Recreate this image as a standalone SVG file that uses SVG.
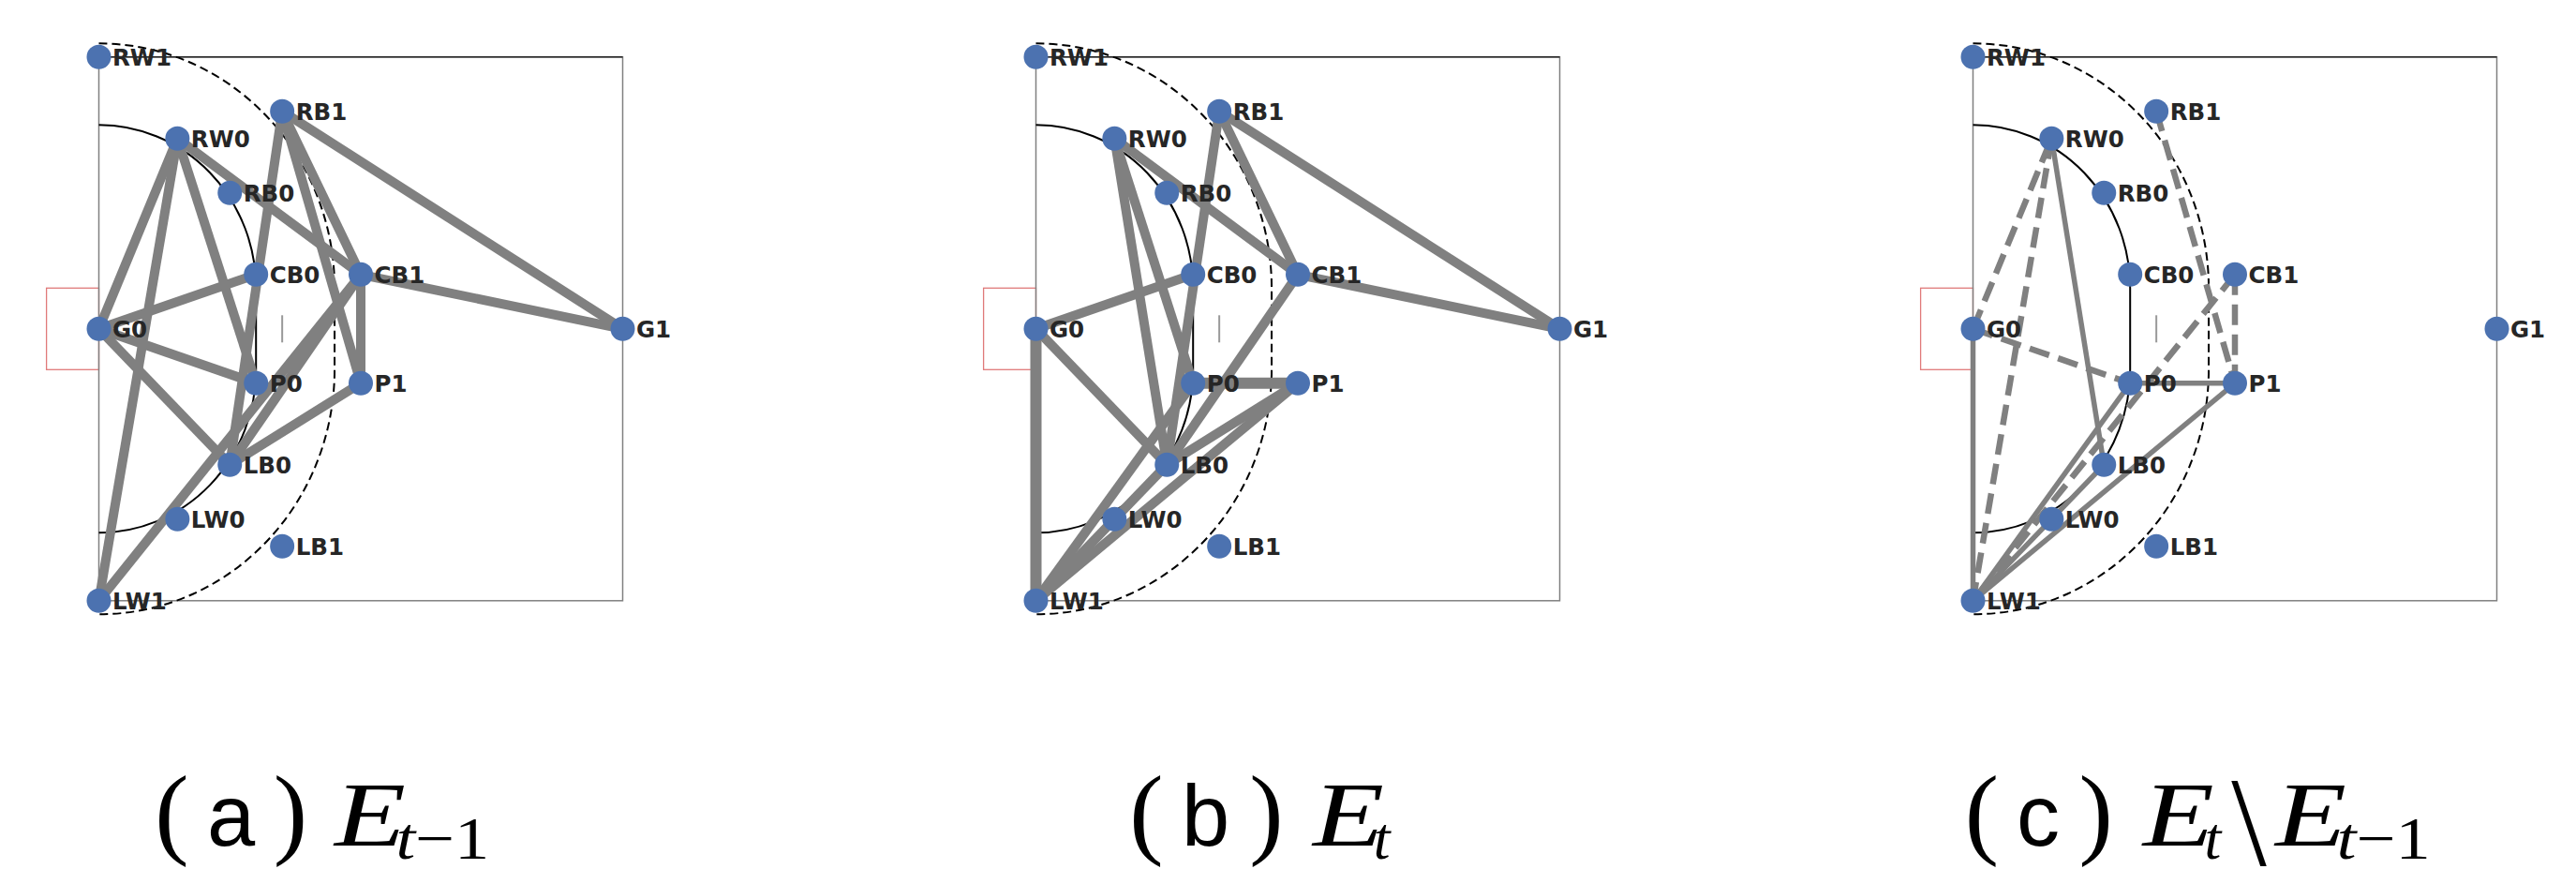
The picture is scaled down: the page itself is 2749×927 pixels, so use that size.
<svg xmlns="http://www.w3.org/2000/svg" xmlns:xlink="http://www.w3.org/1999/xlink" width="2749" height="927" viewBox="0 0 2749 927">
<style>
.fld{fill:none;stroke:#808080;stroke-width:1.5}
.fldtop{stroke:#222;stroke-width:1.5}
.goal{fill:none;stroke:#e07a7a;stroke-width:1.3}
.arc{fill:none;stroke:#000;stroke-width:2}
.arcd{fill:none;stroke:#000;stroke-width:2;stroke-dasharray:9 5}
.sevm{stroke:#999;stroke-width:2}
.e{stroke:#808080;stroke-width:10;fill:none}
.es{stroke:#808080;stroke-width:5.5;fill:none}
.ed{stroke:#808080;stroke-width:6.5;fill:none;stroke-dasharray:22 10}
.nd{fill:#4C72B0}
.lbl{font-family:"DejaVu Sans",sans-serif;font-weight:bold;font-size:24.5px;fill:#262626}
.par{font-family:"Liberation Serif",serif;font-size:109px;fill:#000;text-anchor:middle}
.let{font-family:"Liberation Sans",sans-serif;font-size:92px;fill:#000;text-anchor:middle}
.E{font-family:"Liberation Serif",serif;font-style:italic;font-size:98px;fill:#000;text-anchor:middle}
.sub{font-family:"Liberation Serif",serif;font-size:64px;fill:#000;text-anchor:middle}
.bs{font-family:"Liberation Serif",serif;font-size:135px;fill:#000;text-anchor:middle}
</style>
<defs>
<g id="pitch">
<rect class="goal" x="49.6" y="307.3" width="55.9" height="87"/>
<rect class="fld" x="105.5" y="60.8" width="559" height="580"/>
<line class="fldtop" x1="105.5" y1="60.8" x2="664.5" y2="60.8"/>
<path class="arc" d="M105.5 133.3 A167.7 174 0 0 1 273.2 307.3 L273.2 394.3 A167.7 174 0 0 1 105.5 568.3"/>
<path class="arcd" d="M105.5 46.3 A251.55 261 0 0 1 357.05 307.3 L357.05 394.3 A251.55 261 0 0 1 105.5 655.3"/>
<line class="sevm" x1="301.15" y1="336.3" x2="301.15" y2="365.3"/>
</g>
</defs>

<!-- Panel (a) -->
<g id="panel-a">
<use xlink:href="#pitch" href="#pitch"/>
<g id="edges-a">
<line class="e" x1="189.35" y1="147.8" x2="105.5" y2="350.8"/>
<line class="e" x1="189.35" y1="147.8" x2="105.5" y2="640.8"/>
<line class="e" x1="189.35" y1="147.8" x2="273.2" y2="408.8"/>
<line class="e" x1="189.35" y1="147.8" x2="385" y2="292.8"/>
<line class="e" x1="301.15" y1="118.8" x2="245.25" y2="495.8"/>
<line class="e" x1="301.15" y1="118.8" x2="385" y2="408.8"/>
<line class="e" x1="301.15" y1="118.8" x2="385" y2="292.8"/>
<line class="e" x1="301.15" y1="118.8" x2="664.5" y2="350.8"/>
<line class="e" x1="385" y1="292.8" x2="664.5" y2="350.8"/>
<line class="e" x1="385" y1="292.8" x2="385" y2="408.8"/>
<line class="e" x1="385" y1="292.8" x2="245.25" y2="495.8"/>
<line class="e" x1="385" y1="292.8" x2="105.5" y2="640.8"/>
<line class="e" x1="105.5" y1="350.8" x2="273.2" y2="292.8"/>
<line class="e" x1="105.5" y1="350.8" x2="273.2" y2="408.8"/>
<line class="e" x1="105.5" y1="350.8" x2="245.25" y2="495.8"/>
<line class="e" x1="385" y1="408.8" x2="245.25" y2="495.8"/>
</g>
<g id="a-RW1"><circle class="nd" cx="105.5" cy="60.8" r="13"/><text class="lbl" x="120" y="69.6">RW1</text></g>
<g id="a-RB1"><circle class="nd" cx="301.15" cy="118.8" r="13"/><text class="lbl" x="315.65" y="127.6">RB1</text></g>
<g id="a-RW0"><circle class="nd" cx="189.35" cy="147.8" r="13"/><text class="lbl" x="203.85" y="156.6">RW0</text></g>
<g id="a-RB0"><circle class="nd" cx="245.25" cy="205.8" r="13"/><text class="lbl" x="259.75" y="214.6">RB0</text></g>
<g id="a-CB0"><circle class="nd" cx="273.2" cy="292.8" r="13"/><text class="lbl" x="287.7" y="301.6">CB0</text></g>
<g id="a-CB1"><circle class="nd" cx="385" cy="292.8" r="13"/><text class="lbl" x="399.5" y="301.6">CB1</text></g>
<g id="a-G0"><circle class="nd" cx="105.5" cy="350.8" r="13"/><text class="lbl" x="120" y="359.6">G0</text></g>
<g id="a-G1"><circle class="nd" cx="664.5" cy="350.8" r="13"/><text class="lbl" x="679" y="359.6">G1</text></g>
<g id="a-P0"><circle class="nd" cx="273.2" cy="408.8" r="13"/><text class="lbl" x="287.7" y="417.6">P0</text></g>
<g id="a-P1"><circle class="nd" cx="385" cy="408.8" r="13"/><text class="lbl" x="399.5" y="417.6">P1</text></g>
<g id="a-LB0"><circle class="nd" cx="245.25" cy="495.8" r="13"/><text class="lbl" x="259.75" y="504.6">LB0</text></g>
<g id="a-LW0"><circle class="nd" cx="189.35" cy="553.8" r="13"/><text class="lbl" x="203.85" y="562.6">LW0</text></g>
<g id="a-LB1"><circle class="nd" cx="301.15" cy="582.8" r="13"/><text class="lbl" x="315.65" y="591.6">LB1</text></g>
<g id="a-LW1"><circle class="nd" cx="105.5" cy="640.8" r="13"/><text class="lbl" x="120" y="649.6">LW1</text></g>
</g>

<!-- Panel (b) -->
<g id="panel-b" transform="translate(1000 0)">
<use xlink:href="#pitch" href="#pitch"/>
<g id="edges-b">
<line class="e" x1="189.35" y1="147.8" x2="273.2" y2="408.8"/>
<line class="e" x1="189.35" y1="147.8" x2="385" y2="292.8"/>
<line class="e" x1="189.35" y1="147.8" x2="245.25" y2="495.8"/>
<line class="e" x1="301.15" y1="118.8" x2="245.25" y2="495.8"/>
<line class="e" x1="301.15" y1="118.8" x2="385" y2="292.8"/>
<line class="e" x1="301.15" y1="118.8" x2="664.5" y2="350.8"/>
<line class="e" x1="385" y1="292.8" x2="664.5" y2="350.8"/>
<line class="e" x1="385" y1="292.8" x2="245.25" y2="495.8"/>
<line class="e" x1="105.5" y1="350.8" x2="273.2" y2="292.8"/>
<line class="e" x1="105.5" y1="350.8" x2="245.25" y2="495.8"/>
<line class="e" x1="385" y1="408.8" x2="245.25" y2="495.8"/>
<line class="e" x1="105.5" y1="350.8" x2="105.5" y2="640.8" style="stroke-width:12"/>
<line class="e" x1="273.2" y1="408.8" x2="385" y2="408.8" style="stroke-width:12"/>
<line class="e" x1="105.5" y1="640.8" x2="273.2" y2="408.8"/>
<line class="e" x1="105.5" y1="640.8" x2="245.25" y2="495.8"/>
<line class="e" x1="105.5" y1="640.8" x2="385" y2="408.8"/>
</g>
<g id="b-RW1"><circle class="nd" cx="105.5" cy="60.8" r="13"/><text class="lbl" x="120" y="69.6">RW1</text></g>
<g id="b-RB1"><circle class="nd" cx="301.15" cy="118.8" r="13"/><text class="lbl" x="315.65" y="127.6">RB1</text></g>
<g id="b-RW0"><circle class="nd" cx="189.35" cy="147.8" r="13"/><text class="lbl" x="203.85" y="156.6">RW0</text></g>
<g id="b-RB0"><circle class="nd" cx="245.25" cy="205.8" r="13"/><text class="lbl" x="259.75" y="214.6">RB0</text></g>
<g id="b-CB0"><circle class="nd" cx="273.2" cy="292.8" r="13"/><text class="lbl" x="287.7" y="301.6">CB0</text></g>
<g id="b-CB1"><circle class="nd" cx="385" cy="292.8" r="13"/><text class="lbl" x="399.5" y="301.6">CB1</text></g>
<g id="b-G0"><circle class="nd" cx="105.5" cy="350.8" r="13"/><text class="lbl" x="120" y="359.6">G0</text></g>
<g id="b-G1"><circle class="nd" cx="664.5" cy="350.8" r="13"/><text class="lbl" x="679" y="359.6">G1</text></g>
<g id="b-P0"><circle class="nd" cx="273.2" cy="408.8" r="13"/><text class="lbl" x="287.7" y="417.6">P0</text></g>
<g id="b-P1"><circle class="nd" cx="385" cy="408.8" r="13"/><text class="lbl" x="399.5" y="417.6">P1</text></g>
<g id="b-LB0"><circle class="nd" cx="245.25" cy="495.8" r="13"/><text class="lbl" x="259.75" y="504.6">LB0</text></g>
<g id="b-LW0"><circle class="nd" cx="189.35" cy="553.8" r="13"/><text class="lbl" x="203.85" y="562.6">LW0</text></g>
<g id="b-LB1"><circle class="nd" cx="301.15" cy="582.8" r="13"/><text class="lbl" x="315.65" y="591.6">LB1</text></g>
<g id="b-LW1"><circle class="nd" cx="105.5" cy="640.8" r="13"/><text class="lbl" x="120" y="649.6">LW1</text></g>
</g>

<!-- Panel (c) -->
<g id="panel-c" transform="translate(2000 0)">
<use xlink:href="#pitch" href="#pitch"/>
<g id="edges-c">
<line class="es" x1="105.5" y1="350.8" x2="105.5" y2="640.8"/>
<line class="es" x1="189.35" y1="147.8" x2="245.25" y2="495.8"/>
<line class="es" x1="273.2" y1="408.8" x2="385" y2="408.8"/>
<line class="es" x1="105.5" y1="640.8" x2="273.2" y2="408.8"/>
<line class="es" x1="105.5" y1="640.8" x2="245.25" y2="495.8"/>
<line class="es" x1="105.5" y1="640.8" x2="385" y2="408.8"/>
<line class="ed" x1="105.5" y1="350.8" x2="189.35" y2="147.8"/>
<line class="ed" x1="189.35" y1="147.8" x2="105.5" y2="640.8"/>
<line class="ed" x1="105.5" y1="350.8" x2="273.2" y2="408.8"/>
<line class="ed" x1="301.15" y1="118.8" x2="385" y2="408.8"/>
<line class="ed" x1="385" y1="292.8" x2="385" y2="408.8"/>
<line class="ed" x1="385" y1="292.8" x2="105.5" y2="640.8"/>
</g>
<g id="c-RW1"><circle class="nd" cx="105.5" cy="60.8" r="13"/><text class="lbl" x="120" y="69.6">RW1</text></g>
<g id="c-RB1"><circle class="nd" cx="301.15" cy="118.8" r="13"/><text class="lbl" x="315.65" y="127.6">RB1</text></g>
<g id="c-RW0"><circle class="nd" cx="189.35" cy="147.8" r="13"/><text class="lbl" x="203.85" y="156.6">RW0</text></g>
<g id="c-RB0"><circle class="nd" cx="245.25" cy="205.8" r="13"/><text class="lbl" x="259.75" y="214.6">RB0</text></g>
<g id="c-CB0"><circle class="nd" cx="273.2" cy="292.8" r="13"/><text class="lbl" x="287.7" y="301.6">CB0</text></g>
<g id="c-CB1"><circle class="nd" cx="385" cy="292.8" r="13"/><text class="lbl" x="399.5" y="301.6">CB1</text></g>
<g id="c-G0"><circle class="nd" cx="105.5" cy="350.8" r="13"/><text class="lbl" x="120" y="359.6">G0</text></g>
<g id="c-G1"><circle class="nd" cx="664.5" cy="350.8" r="13"/><text class="lbl" x="679" y="359.6">G1</text></g>
<g id="c-P0"><circle class="nd" cx="273.2" cy="408.8" r="13"/><text class="lbl" x="287.7" y="417.6">P0</text></g>
<g id="c-P1"><circle class="nd" cx="385" cy="408.8" r="13"/><text class="lbl" x="399.5" y="417.6">P1</text></g>
<g id="c-LB0"><circle class="nd" cx="245.25" cy="495.8" r="13"/><text class="lbl" x="259.75" y="504.6">LB0</text></g>
<g id="c-LW0"><circle class="nd" cx="189.35" cy="553.8" r="13"/><text class="lbl" x="203.85" y="562.6">LW0</text></g>
<g id="c-LB1"><circle class="nd" cx="301.15" cy="582.8" r="13"/><text class="lbl" x="315.65" y="591.6">LB1</text></g>
<g id="c-LW1"><circle class="nd" cx="105.5" cy="640.8" r="13"/><text class="lbl" x="120" y="649.6">LW1</text></g>
</g>

<!-- Captions -->
<g id="caption-a">
<text class="par" x="183.5" y="901.7">(</text>
<text class="let" x="246.7" y="901.7">a</text>
<text class="par" x="309.9" y="901.7">)</text>
<text class="E" x="394.9" y="901.7" textLength="76" lengthAdjust="spacingAndGlyphs">E</text>
<text class="sub" x="472.4" y="916" textLength="100" lengthAdjust="spacingAndGlyphs"><tspan font-style="italic">t</tspan>−1</text>
</g>
<g id="caption-b">
<text class="par" x="1223.3" y="901.7">(</text>
<text class="let" x="1286.7" y="901.7">b</text>
<text class="par" x="1351.5" y="901.7">)</text>
<text class="E" x="1439" y="901.7" textLength="76" lengthAdjust="spacingAndGlyphs">E</text>
<text class="sub" x="1474.7" y="916" font-style="italic">t</text>
</g>
<g id="caption-c">
<text class="par" x="2115" y="901.7">(</text>
<text class="let" x="2175" y="901.7">c</text>
<text class="par" x="2236.7" y="901.7">)</text>
<text class="E" x="2324.7" y="901.7" textLength="76" lengthAdjust="spacingAndGlyphs">E</text>
<text class="sub" x="2361.4" y="916" font-style="italic">t</text>
<text class="bs" x="2400" y="923">\</text>
<text class="E" x="2466" y="901.7" textLength="76" lengthAdjust="spacingAndGlyphs">E</text>
<text class="sub" x="2543.7" y="916" textLength="100" lengthAdjust="spacingAndGlyphs"><tspan font-style="italic">t</tspan>−1</text>
</g>
</svg>
